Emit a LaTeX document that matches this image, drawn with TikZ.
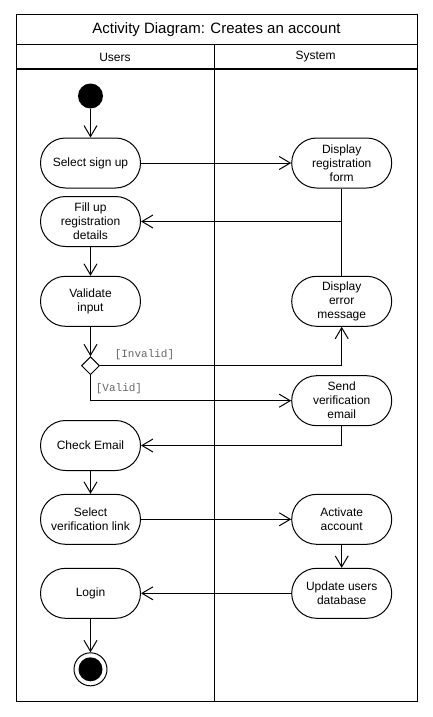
\documentclass[tikz,border=0pt]{standalone}
\usepackage{fontspec}
\setmainfont{Liberation Sans}
\newfontfamily\monof{Liberation Mono}
\usetikzlibrary{arrows.meta,shapes.geometric}
\begin{document}
\begin{tikzpicture}[x=1pt,y=-1pt, line width=1pt,
  act/.style={draw, rounded corners=25pt, minimum width=100pt, minimum height=50pt, align=center, font=\fontsize{12}{14}\selectfont, inner sep=0pt},
  flow/.style={-{Straight Barb[length=11pt,width=13pt,line width=1pt]}},
  guard/.style={font=\monof\fontsize{11}{13}\selectfont, text=black!60, inner sep=0pt},
  lane/.style={font=\fontsize{12}{14}\selectfont, inner sep=0pt}
]
\useasboundingbox (0,0) rectangle (433,717);
\draw (16,15) rectangle (417,701);
\draw (16,45) -- (417,45);
\draw (16,69) -- (417,69);
\draw (214,45) -- (214,701);
\node[inner sep=0pt] (title) at (216.5,30) {\fontsize{15}{18}\selectfont Activity Diagram: Creates an account};
\node[lane] (users) at (115,57) {Users};
\node[lane] (system) at (315.5,57) {System};

\node[circle, fill, minimum size=25pt, inner sep=0pt] (start) at (90.5,96) {};

\node[act] (sel) at (90.5,163) {Select sign up};
\node[act] (disp) at (341.7,163) {Display\\registration\\form};
\node[act] (fill) at (90.5,221.5) {Fill up\\registration\\details};
\node[act] (val) at (90.5,301.3) {Validate\\input};
\node[act] (err) at (341.7,301.3) {Display\\error\\message};
\node[diamond, draw, minimum width=18pt, minimum height=18pt, inner sep=0pt] (dec) at (90.5,365.7) {};
\node[act] (send) at (341.7,400.7) {Send\\verification\\email};
\node[act] (chk) at (90.5,445.5) {Check Email};
\node[act] (selv) at (90.5,519.3) {Select\\verification link};
\node[act] (actv) at (341.7,519.3) {Activate\\account};
\node[act] (login) at (90.5,593.3) {Login};
\node[act] (upd) at (341.7,593.3) {Update users\\database};
\node[circle, draw, minimum size=33pt, inner sep=0pt] (end) at (90.5,669.3) {};
\node[circle, fill, minimum size=24pt, inner sep=0pt] (endin) at (end.center) {};

\node[guard] (linv) at (144.5,355) {[Invalid]};
\node[guard] (lval) at (119,389) {[Valid]};

\draw[flow] (start) -- (sel);
\draw[flow] (sel) -- (disp);
\draw[flow] (disp.south) |- (fill.east);
\draw (err.north) -- (err.north |- fill.east);
\draw[flow] (fill) -- (val);
\draw[flow] (val) -- (dec);
\draw[flow] (dec.east) -| (err.south);
\draw[flow] (dec.south) |- (send.west);
\draw[flow] (send.south) |- (chk.east);
\draw[flow] (chk) -- (selv);
\draw[flow] (selv) -- (actv);
\draw[flow] (actv) -- (upd);
\draw[flow] (upd) -- (login);
\draw[flow] (login) -- (end);
\end{tikzpicture}
\end{document}
